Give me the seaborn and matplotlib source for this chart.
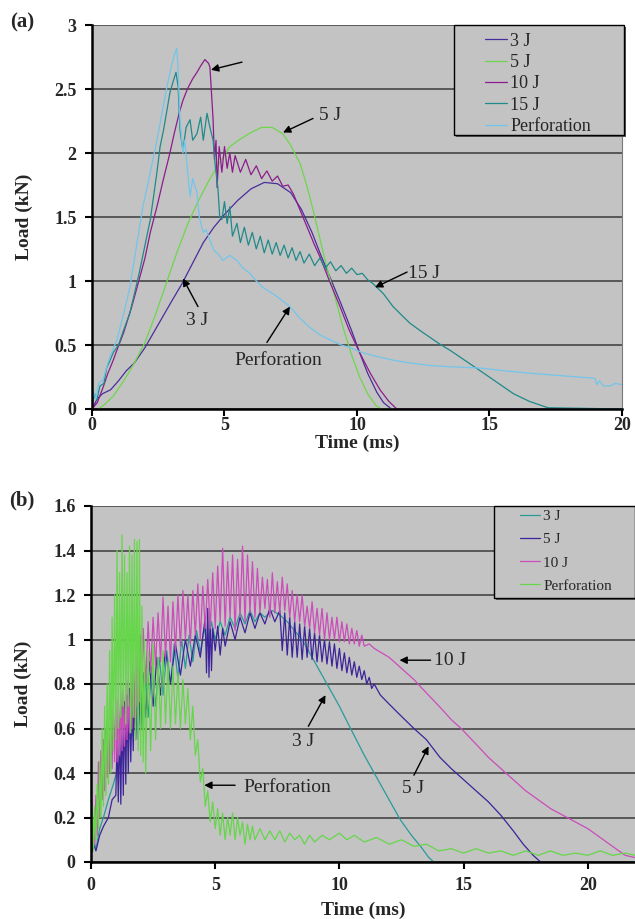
import matplotlib
matplotlib.use("Agg")
import matplotlib.pyplot as plt
from matplotlib.patches import Rectangle
import numpy as np
import pandas as pd
import seaborn as sns

# ---- data: (time ms, load kN) ----
# panel (a)
a_3J = [(0, 0.0), (0.2, 0.08), (0.4, 0.12), (0.7, 0.15), (1.0, 0.22), (1.3, 0.30), (1.6, 0.36),
        (2.0, 0.48), (2.5, 0.66), (3.0, 0.84), (3.4, 0.98), (3.8, 1.14), (4.2, 1.30), (4.6, 1.42),
        (5.0, 1.52), (5.5, 1.63), (6.0, 1.72), (6.5, 1.77), (7.0, 1.76), (7.5, 1.69), (7.9, 1.56),
        (8.3, 1.38), (8.6, 1.22), (9.0, 1.02), (9.4, 0.82), (9.8, 0.61), (10.1, 0.44), (10.4, 0.28),
        (10.75, 0.13), (11.0, 0.05), (11.3, 0.0), (20, 0.0)]
a_5J = [(0.25, 0.0), (0.5, 0.04), (0.8, 0.10), (1.2, 0.22), (1.6, 0.36), (2.0, 0.52), (2.4, 0.74),
        (2.8, 0.98), (3.2, 1.22), (3.6, 1.44), (4.0, 1.62), (4.4, 1.78), (4.8, 1.92), (5.2, 2.05),
        (5.6, 2.11), (6.0, 2.16), (6.4, 2.20), (6.8, 2.20), (7.2, 2.15), (7.5, 2.06), (7.85, 1.92),
        (8.1, 1.75), (8.35, 1.55), (8.6, 1.33), (8.86, 1.11), (9.2, 0.85), (9.47, 0.64), (9.8, 0.42),
        (10.1, 0.25), (10.4, 0.12), (10.7, 0.03), (10.9, 0.0), (20, 0.0)]
a_10J = [(0.0, 0.0), (0.2, 0.05), (0.42, 0.17), (0.6, 0.28), (0.8, 0.38), (0.94, 0.46), (1.2, 0.60),
         (1.5, 0.80), (1.7, 0.95), (2.0, 1.18), (2.2, 1.38), (2.45, 1.58), (2.7, 1.80), (2.94, 2.0),
         (3.1, 2.15), (3.3, 2.32), (3.43, 2.41), (3.6, 2.50), (3.8, 2.58), (3.96, 2.63), (4.1, 2.68),
         (4.26, 2.73), (4.4, 2.70), (4.45, 2.67), (4.5, 2.5), (4.57, 2.26), (4.62, 1.95), (4.68, 2.1),
         (4.72, 1.73), (4.8, 2.05), (4.9, 1.85), (5.0, 2.05), (5.1, 1.88), (5.2, 2.0), (5.3, 1.85),
         (5.4, 1.98), (5.6, 1.85), (5.8, 1.95), (6.0, 1.83), (6.2, 1.90), (6.4, 1.80), (6.6, 1.86),
         (6.8, 1.78), (7.0, 1.82), (7.2, 1.74), (7.4, 1.75), (7.6, 1.68), (7.8, 1.58), (8.0, 1.48),
         (8.2, 1.38), (8.4, 1.28), (8.6, 1.19), (9.0, 0.98), (9.36, 0.8), (9.7, 0.62), (10.1, 0.44),
         (10.5, 0.28), (10.87, 0.15), (11.2, 0.06), (11.5, 0.0), (20, 0.0)]
a_15J = [(0.0, 0.02), (0.1, 0.12), (0.18, 0.07), (0.3, 0.18), (0.45, 0.2), (0.55, 0.32), (0.68, 0.38),
         (0.8, 0.44), (1.0, 0.5), (1.2, 0.62), (1.43, 0.75), (1.6, 0.9), (1.8, 1.08), (2.0, 1.28),
         (2.2, 1.48), (2.35, 1.7), (2.45, 1.85), (2.57, 2.05), (2.7, 2.18), (2.8, 2.3), (2.94, 2.47),
         (3.05, 2.55), (3.17, 2.63), (3.25, 2.52), (3.32, 2.18), (3.43, 2.02), (3.55, 2.2), (3.7, 2.26),
         (3.8, 2.1), (3.96, 2.15), (4.1, 2.28), (4.2, 2.1), (4.34, 2.31), (4.45, 2.2), (4.57, 2.1),
         (4.65, 1.9), (4.75, 1.73), (4.82, 1.5), (4.9, 1.48), (5.0, 1.62), (5.1, 1.45), (5.2, 1.58),
         (5.3, 1.35), (5.47, 1.45), (5.6, 1.3), (5.75, 1.42), (5.9, 1.28), (6.05, 1.38), (6.2, 1.25),
         (6.35, 1.35), (6.5, 1.22), (6.65, 1.32), (6.8, 1.21), (6.95, 1.3), (7.1, 1.2), (7.25, 1.28),
         (7.4, 1.18), (7.55, 1.26), (7.7, 1.16), (7.85, 1.23), (8.0, 1.14), (8.2, 1.21), (8.4, 1.12),
         (8.6, 1.18), (8.8, 1.1), (9.0, 1.15), (9.2, 1.08), (9.4, 1.12), (9.6, 1.06), (9.8, 1.1),
         (10.0, 1.05), (10.2, 1.06), (10.4, 1.01), (10.6, 0.98), (10.75, 0.95), (11.0, 0.9), (11.36, 0.8),
         (11.7, 0.73), (12.0, 0.67), (12.4, 0.61), (12.75, 0.56), (13.1, 0.51), (13.5, 0.46), (14.0, 0.39),
         (14.64, 0.3), (15.2, 0.22), (15.9, 0.12), (16.5, 0.06), (17.2, 0.01), (20, 0.0)]
a_perf = [(0.0, 0.05), (0.05, 0.15), (0.15, 0.08), (0.25, 0.2), (0.42, 0.23), (0.6, 0.36), (0.8, 0.47),
          (0.94, 0.54), (1.2, 0.75), (1.43, 0.95), (1.7, 1.3), (1.92, 1.58), (2.2, 1.85), (2.45, 2.1),
          (2.65, 2.32), (2.83, 2.52), (3.0, 2.68), (3.13, 2.78), (3.2, 2.82), (3.25, 2.65), (3.32, 2.26),
          (3.43, 2.0), (3.5, 2.1), (3.58, 1.92), (3.7, 1.66), (3.8, 1.8), (3.96, 1.69), (4.05, 1.5),
          (4.19, 1.38), (4.3, 1.4), (4.45, 1.32), (4.6, 1.24), (4.8, 1.2), (4.94, 1.16), (5.2, 1.2),
          (5.47, 1.16), (5.7, 1.1), (5.96, 1.06), (6.2, 1.0), (6.45, 0.95), (6.83, 0.9), (7.1, 0.86),
          (7.47, 0.8), (7.8, 0.72), (8.2, 0.64), (8.6, 0.58), (8.98, 0.54), (9.4, 0.5), (9.74, 0.48),
          (10.2, 0.44), (10.75, 0.41), (11.4, 0.38), (12.0, 0.36), (12.75, 0.34), (13.5, 0.33),
          (14.64, 0.32), (15.5, 0.3), (16.5, 0.28), (17.7, 0.26), (18.98, 0.24), (19.05, 0.19),
          (19.15, 0.22), (19.3, 0.18), (19.55, 0.18), (19.75, 0.2), (20, 0.19)]

# panel (b)
b_3J = [(0.0, 0.05), (0.1, 0.1), (0.2, 0.06), (0.35, 0.15), (0.5, 0.2), (0.7, 0.28), (0.9, 0.35),
        (1.1, 0.43), (1.3, 0.5), (1.5, 0.55), (1.65, 0.57), (1.8, 0.75), (1.9, 0.55), (2.0, 0.8),
        (2.1, 0.6), (2.2, 0.85), (2.3, 0.65), (2.45, 0.88), (2.6, 0.7), (2.75, 0.92), (2.9, 0.75),
        (3.05, 0.95), (3.2, 0.8), (3.35, 0.98), (3.5, 0.82), (3.65, 1.0), (3.8, 0.87), (3.95, 1.02),
        (4.1, 0.9), (4.25, 1.04), (4.4, 0.94), (4.55, 1.05), (4.7, 0.97), (4.85, 1.08), (5.0, 1.0),
        (5.2, 1.08), (5.4, 1.02), (5.6, 1.1), (5.8, 1.05), (6.0, 1.12), (6.2, 1.07), (6.4, 1.13),
        (6.6, 1.08), (6.8, 1.12), (7.0, 1.1), (7.3, 1.13), (7.6, 1.11), (7.9, 1.08), (8.2, 1.04),
        (8.55, 0.99), (9.0, 0.9), (9.5, 0.8), (10.0, 0.7), (10.45, 0.6), (11.0, 0.48), (11.4, 0.4),
        (12.0, 0.28), (12.45, 0.19), (12.9, 0.12), (13.27, 0.07), (13.6, 0.02), (13.8, 0.0)]
b_5J = [(0.0, 0.03), (0.1, 0.08), (0.2, 0.05), (0.35, 0.12), (0.5, 0.16), (0.7, 0.2), (0.85, 0.28),
        (1.0, 0.3), (1.05, 0.55), (1.1, 0.27), (1.15, 0.62), (1.2, 0.26), (1.25, 0.7), (1.3, 0.3),
        (1.35, 0.72), (1.4, 0.35), (1.45, 0.75), (1.5, 0.4), (1.55, 0.78), (1.6, 0.45), (1.65, 0.72),
        (1.7, 0.5), (1.75, 0.8), (1.8, 0.55), (1.9, 0.82), (2.0, 0.6), (2.1, 0.85), (2.2, 0.65),
        (2.35, 0.9), (2.5, 0.7), (2.65, 0.92), (2.8, 0.75), (3.0, 0.95), (3.2, 0.8), (3.4, 0.98),
        (3.6, 0.84), (3.8, 1.0), (4.0, 0.88), (4.2, 1.02), (4.4, 0.92), (4.6, 1.1), (4.65, 0.85),
        (4.7, 1.14), (4.75, 0.83), (4.8, 1.1), (4.85, 0.86), (4.9, 1.05), (5.0, 0.95), (5.1, 1.06),
        (5.2, 0.93), (5.3, 1.05), (5.4, 0.97), (5.6, 1.08), (5.8, 1.0), (6.0, 1.1), (6.2, 1.03),
        (6.4, 1.12), (6.6, 1.05), (6.8, 1.12), (7.0, 1.07), (7.2, 1.14), (7.4, 1.08), (7.6, 1.13),
        (7.7, 0.95), (7.8, 1.12), (7.9, 0.93), (8.0, 1.1), (8.1, 0.92), (8.2, 1.08), (8.3, 0.92),
        (8.4, 1.07), (8.5, 0.91), (8.6, 1.06), (8.7, 0.92), (8.8, 1.05), (8.9, 0.91), (9.0, 1.03),
        (9.1, 0.9), (9.2, 1.02), (9.3, 0.9), (9.4, 1.0), (9.5, 0.89), (9.6, 0.99), (9.7, 0.88),
        (9.8, 0.98), (9.9, 0.87), (10.0, 0.96), (10.1, 0.86), (10.2, 0.94), (10.3, 0.85), (10.4, 0.92),
        (10.5, 0.84), (10.6, 0.9), (10.7, 0.83), (10.8, 0.88), (10.9, 0.82), (11.0, 0.86), (11.1, 0.8),
        (11.2, 0.83), (11.3, 0.78), (11.4, 0.8), (11.65, 0.75), (12.0, 0.71), (12.45, 0.66),
        (13.0, 0.6), (13.5, 0.55), (14.05, 0.47), (14.5, 0.42), (14.9, 0.38), (15.5, 0.32),
        (16.0, 0.27), (16.5, 0.21), (17.0, 0.14), (17.4, 0.08), (17.8, 0.03), (18.1, 0.0)]
b_10J = [(0.0, 0.05), (0.1, 0.12), (0.15, 0.08), (0.2, 0.3), (0.25, 0.12), (0.3, 0.45), (0.35, 0.2),
         (0.4, 0.5), (0.45, 0.28), (0.5, 0.55), (0.55, 0.32), (0.6, 0.6), (0.65, 0.38), (0.7, 0.62),
         (0.75, 0.4), (0.8, 0.66), (0.85, 0.42), (0.9, 0.7), (0.95, 0.45), (1.0, 0.72), (1.05, 0.45),
         (1.1, 0.74), (1.15, 0.48), (1.2, 0.76), (1.25, 0.5), (1.3, 0.78), (1.35, 0.52), (1.4, 0.8),
         (1.45, 0.55), (1.5, 0.82), (1.55, 0.58), (1.6, 0.85), (1.65, 0.6), (1.7, 0.9), (1.75, 0.65),
         (1.8, 0.95), (1.85, 0.7), (1.9, 1.0), (1.95, 0.72), (2.0, 1.02), (2.05, 0.75), (2.1, 1.05),
         (2.2, 0.8), (2.3, 1.08), (2.4, 0.85), (2.5, 1.1), (2.6, 0.88), (2.7, 1.12), (2.8, 0.9),
         (2.9, 1.19), (3.0, 0.92), (3.1, 1.15), (3.2, 0.9), (3.3, 1.17), (3.4, 0.95), (3.5, 1.2),
         (3.6, 0.97), (3.7, 1.22), (3.8, 1.0), (3.9, 1.2), (4.0, 0.98), (4.1, 1.22), (4.2, 1.02),
         (4.3, 1.25), (4.4, 1.0), (4.5, 1.24), (4.6, 1.05), (4.7, 1.27), (4.8, 1.05), (4.9, 1.3),
         (5.0, 1.05), (5.1, 1.33), (5.2, 1.08), (5.3, 1.41), (5.4, 1.06), (5.5, 1.35), (5.6, 1.1),
         (5.7, 1.38), (5.8, 1.04), (5.9, 1.36), (6.0, 1.1), (6.1, 1.42), (6.2, 1.08), (6.3, 1.38),
         (6.4, 1.12), (6.5, 1.35), (6.6, 1.1), (6.7, 1.32), (6.8, 1.12), (6.9, 1.28), (7.0, 1.14),
         (7.1, 1.27), (7.2, 1.1), (7.3, 1.3), (7.4, 1.12), (7.5, 1.26), (7.6, 1.12), (7.7, 1.28),
         (7.8, 1.13), (7.9, 1.25), (8.0, 1.1), (8.1, 1.22), (8.2, 1.08), (8.3, 1.2), (8.4, 1.08),
         (8.5, 1.2), (8.6, 1.06), (8.7, 1.15), (8.8, 1.05), (8.9, 1.17), (9.0, 1.03), (9.1, 1.14),
         (9.2, 1.02), (9.3, 1.14), (9.4, 1.0), (9.5, 1.12), (9.6, 1.0), (9.7, 1.1), (9.8, 1.0),
         (9.9, 1.1), (10.0, 0.99), (10.1, 1.08), (10.2, 0.99), (10.3, 1.07), (10.4, 0.98), (10.5, 1.05),
         (10.6, 0.98), (10.7, 1.04), (10.8, 0.97), (10.9, 1.02), (11.0, 0.97), (11.2, 0.98), (11.4, 0.96),
         (11.7, 0.94), (12.0, 0.92), (12.2, 0.9), (12.6, 0.86), (13.0, 0.82), (13.5, 0.76), (14.1, 0.69),
         (14.5, 0.64), (14.9, 0.6), (15.5, 0.53), (16.0, 0.47), (16.5, 0.42), (17.0, 0.37), (17.5, 0.32),
         (18.0, 0.28), (18.5, 0.24), (19.0, 0.21), (19.5, 0.18), (20.0, 0.15), (20.5, 0.11), (21.0, 0.07),
         (21.5, 0.03), (21.9, 0.02)]
b_perf = [(0.0, 0.02), (0.05, 0.27), (0.1, 0.05), (0.15, 0.25), (0.2, 0.1), (0.25, 0.35), (0.3, 0.15),
          (0.35, 0.45), (0.4, 0.2), (0.45, 0.6), (0.5, 0.25), (0.55, 0.7), (0.6, 0.3), (0.65, 0.8),
          (0.7, 0.35), (0.75, 0.95), (0.8, 0.4), (0.85, 1.1), (0.9, 0.5), (0.95, 1.2), (1.0, 0.55),
          (1.05, 1.4), (1.1, 0.6), (1.15, 1.3), (1.2, 0.65), (1.25, 1.47), (1.3, 0.7), (1.35, 1.38),
          (1.4, 0.62), (1.45, 1.3), (1.5, 0.7), (1.55, 1.42), (1.6, 0.58), (1.65, 1.38), (1.7, 0.65),
          (1.75, 1.45), (1.8, 0.55), (1.85, 1.44), (1.9, 0.5), (1.95, 1.45), (2.0, 0.48), (2.05, 1.15),
          (2.1, 0.45), (2.15, 1.0), (2.2, 0.4), (2.3, 0.95), (2.4, 0.5), (2.5, 0.98), (2.6, 0.55),
          (2.7, 0.92), (2.8, 0.6), (2.9, 0.95), (3.0, 0.62), (3.1, 0.9), (3.2, 0.6), (3.3, 0.88),
          (3.4, 0.62), (3.5, 0.85), (3.6, 0.6), (3.7, 0.82), (3.8, 0.62), (3.9, 0.78), (4.0, 0.55),
          (4.1, 0.7), (4.2, 0.48), (4.3, 0.55), (4.4, 0.36), (4.5, 0.42), (4.6, 0.25), (4.7, 0.32),
          (4.8, 0.18), (4.9, 0.27), (5.0, 0.15), (5.1, 0.24), (5.2, 0.12), (5.3, 0.22), (5.4, 0.1),
          (5.5, 0.2), (5.6, 0.12), (5.7, 0.22), (5.8, 0.1), (5.9, 0.2), (6.0, 0.12), (6.1, 0.18),
          (6.2, 0.08), (6.3, 0.17), (6.4, 0.1), (6.5, 0.16), (6.6, 0.1), (6.8, 0.15), (7.0, 0.1),
          (7.2, 0.14), (7.4, 0.1), (7.6, 0.14), (7.8, 0.09), (8.0, 0.13), (8.2, 0.1), (8.4, 0.12),
          (8.6, 0.08), (8.8, 0.12), (9.0, 0.09), (9.3, 0.12), (9.6, 0.1), (10.0, 0.13), (10.3, 0.1),
          (10.6, 0.12), (11.0, 0.09), (11.5, 0.11), (12.0, 0.08), (12.5, 0.1), (13.0, 0.07), (13.5, 0.08),
          (14.0, 0.05), (14.5, 0.06), (15.0, 0.04), (15.5, 0.06), (16.0, 0.04), (16.5, 0.05), (17.0, 0.03),
          (17.5, 0.05), (18.0, 0.03), (18.5, 0.05), (19.0, 0.03), (19.5, 0.04), (20.0, 0.03), (20.5, 0.05),
          (21.0, 0.03), (21.5, 0.04), (21.9, 0.03)]

names_a = ["3 J", "5 J", "10 J", "15 J", "Perforation"]
colors_a = ["#4a2d9c", "#6fd64c", "#8c1c8c", "#1f8a8a", "#72c6ea"]
names_b = ["3 J", "5 J", "10 J", "Perforation"]
colors_b = ["#2a9a9a", "#3d2399", "#cc4cbb", "#66d64a"]

yticks_a = [0, 0.5, 1, 1.5, 2, 2.5, 3]
ytick_labels_a = ["0", "0.5", "1", "1.5", "2", "2.5", "3"]
yticks_b = [0, 0.2, 0.4, 0.6, 0.8, 1.0, 1.2, 1.4, 1.6]
ytick_labels_b = ["0", "0.2", "0.4", "0.6", "0.8", "1", "1.2", "1.4", "1.6"]
xticks = [0, 5, 10, 15, 20]

sns.set_theme(style="white")
plt.rcParams['font.family'] = ['Liberation Serif', 'DejaVu Serif']

BG = "#c3c3c3"


def make_frame(series, names):
    parts = []
    for pairs, name in zip(series, names):
        df = pd.DataFrame(pairs, columns=["t", "load"])
        df["series"] = name
        parts.append(df)
    return pd.concat(parts, ignore_index=True)


def style_axes(ax, xmax, ymax, yticks, ylabels, right_spine, xpad, xlabelpad):
    ax.set_facecolor(BG)
    ax.set_xlim(0, xmax)
    ax.set_ylim(0, ymax)
    ax.set_xticks(xticks)
    ax.set_xticklabels([str(v) for v in xticks], fontweight="bold", fontsize=13)
    ax.set_yticks(yticks)
    ax.set_yticklabels(ylabels, fontweight="bold", fontsize=13)
    ax.grid(axis="y", color="#3a3a3a", linewidth=1.1)
    ax.grid(axis="x", visible=False)
    ax.set_axisbelow(True)
    for s in ["left", "bottom"]:
        ax.spines[s].set_color("black")
        ax.spines[s].set_linewidth(1.8)
    ax.spines["top"].set_visible(False)
    if right_spine:
        ax.spines["right"].set_color("#7a7a7a")
        ax.spines["right"].set_linewidth(0.8)
    else:
        ax.spines["right"].set_visible(False)
    ax.tick_params(axis="both", which="major", direction="out", length=5, width=1.5,
                   color="black", left=True, bottom=True)
    ax.tick_params(axis="y", pad=6)
    ax.tick_params(axis="x", pad=xpad)
    ax.set_xlabel("Time (ms)", fontsize=14, fontweight="bold", labelpad=xlabelpad)
    ax.set_ylabel("Load (kN)", fontsize=14, fontweight="bold")


def arrow(ax, head, tail):
    ax.annotate("", xy=head, xytext=tail,
                arrowprops=dict(arrowstyle="-|>", color="black", lw=1.0, mutation_scale=11,
                                shrinkA=0, shrinkB=0))


def legend_box(ax, x0, y0, x1, y1):
    # grey shadow then framed box, like the spreadsheet legend
    ax.add_patch(Rectangle((x0 + 0.004, y0 - 0.006), x1 - x0, y1 - y0, transform=ax.transAxes,
                           facecolor="#5a5a5a", edgecolor="none", clip_on=False, zorder=8))
    ax.add_patch(Rectangle((x0, y0), x1 - x0, y1 - y0, transform=ax.transAxes,
                           facecolor=BG, edgecolor="black", linewidth=1.0, clip_on=False, zorder=9))


fig = plt.figure(figsize=(6.35, 9.19), dpi=100)
ax1 = fig.add_axes([92 / 635, 1 - 409 / 919, 530 / 635, 384 / 919])
ax2 = fig.add_axes([91 / 635, 1 - 862 / 919, 544 / 635, 356 / 919])

# ---- panel (a) ----
df_a = make_frame([a_3J, a_5J, a_10J, a_15J, a_perf], names_a)
sns.lineplot(data=df_a, x="t", y="load", hue="series", hue_order=names_a,
             palette=dict(zip(names_a, colors_a)), estimator=None, sort=False,
             linewidth=0.9, ax=ax1, legend=False)
style_axes(ax1, 20, 3, yticks_a, ytick_labels_a, True, 0.5, 1)
ax1.yaxis.set_label_coords(-0.112, 0.5)

legend_box(ax1, 0.683, 0.7135, 1.004, 1.0)
leg = ax1.legend(ax1.get_lines()[:5], names_a, loc="upper left", bbox_to_anchor=(0.7415, 0.98),
                 frameon=False, fontsize=13, handlelength=1.2, handletextpad=0.2,
                 labelspacing=0.24, borderpad=0, borderaxespad=0)
leg.set_zorder(10)

arrow(ax1, (4.49, 2.65), (5.66, 2.71))
arrow(ax1, (7.21, 2.16), (8.34, 2.27))
ax1.text(8.98, 2.29, "5 J", fontsize=14, ha="center", va="center")
arrow(ax1, (10.68, 0.95), (11.89, 1.07))
ax1.text(12.53, 1.06, "15 J", fontsize=14, ha="center", va="center")
arrow(ax1, (3.43, 1.02), (4.0, 0.80))
ax1.text(3.96, 0.69, "3 J", fontsize=14, ha="center", va="center")
arrow(ax1, (7.47, 0.80), (6.6, 0.52))
ax1.text(7.02, 0.38, "Perforation", fontsize=14, ha="center", va="center")

# ---- panel (b) ----
df_b = make_frame([b_3J, b_5J, b_10J, b_perf], names_b)
sns.lineplot(data=df_b, x="t", y="load", hue="series", hue_order=names_b,
             palette=dict(zip(names_b, colors_b)), estimator=None, sort=False,
             linewidth=0.9, ax=ax2, legend=False)
style_axes(ax2, 21.9, 1.6, yticks_b, ytick_labels_b, False, 6, 5)
ax2.yaxis.set_label_coords(-0.108, 0.5)

legend_box(ax2, 0.741, 0.7416, 1.0, 1.0)
leg = ax2.legend(ax2.get_lines()[:4], names_b, loc="upper left", bbox_to_anchor=(0.789, 0.99),
                 frameon=False, fontsize=11, handlelength=1.3, handletextpad=0.2,
                 labelspacing=0.62, borderpad=0, borderaxespad=0)
leg.set_zorder(10)

arrow(ax2, (12.42, 0.907), (13.67, 0.907))
ax2.text(13.8, 0.907, "10 J", fontsize=14, ha="left", va="center")
arrow(ax2, (9.44, 0.75), (8.75, 0.61))
ax2.text(8.55, 0.54, "3 J", fontsize=14, ha="center", va="center")
arrow(ax2, (13.59, 0.52), (13.0, 0.39))
ax2.text(12.98, 0.33, "5 J", fontsize=14, ha="center", va="center")
arrow(ax2, (4.56, 0.345), (5.8, 0.345))
ax2.text(6.13, 0.335, "Perforation", fontsize=14, ha="left", va="center")

fig.text(22 / 635, 1 - 22 / 919, "(a)", fontsize=15, fontweight="bold", ha="center", va="center")
fig.text(22 / 635, 1 - 500 / 919, "(b)", fontsize=15, fontweight="bold", ha="center", va="center")

fig.savefig("out.png", dpi=100)
